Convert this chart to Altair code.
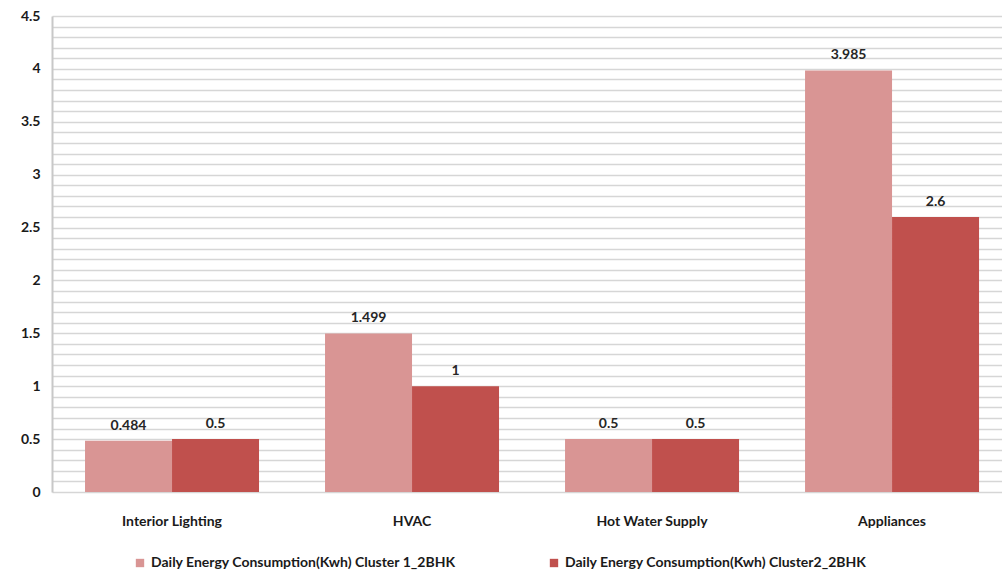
import altair as alt
import pandas as pd

categories = ["Interior Lighting", "HVAC", "Hot Water Supply", "Appliances"]
series_names = [
    "Daily Energy Consumption(Kwh) Cluster 1_2BHK",
    "Daily Energy Consumption(Kwh) Cluster2_2BHK",
]
cluster1 = [0.484, 1.499, 0.5, 3.985]
cluster2 = [0.5, 1, 0.5, 2.6]
grid_values = [round(i * 0.1, 1) for i in range(0, 46)]

rows = []
for c, v1, v2 in zip(categories, cluster1, cluster2):
    rows.append({"category": c, "series": series_names[0], "value": v1, "label": f"{v1:g}"})
    rows.append({"category": c, "series": series_names[1], "value": v2, "label": f"{v2:g}"})
df = pd.DataFrame(rows)

FONT = "Lato"

x_enc = alt.X(
    "category:N",
    sort=categories,
    title=None,
    scale=alt.Scale(paddingInner=0.275, paddingOuter=0.1166, align=0.59),
    axis=alt.Axis(
        labelAngle=0, labelFont=FONT, labelFontSize=14, labelFontWeight="bold",
        labelColor="#1a1a1a", ticks=False, domain=False, labelPadding=22,
    ),
)
xoff = alt.XOffset("series:N", sort=series_names, scale=alt.Scale(paddingInner=0, paddingOuter=0))
y_enc = alt.Y(
    "value:Q",
    title=None,
    scale=alt.Scale(domain=[0, 4.5], nice=False),
    axis=alt.Axis(
        values=grid_values,
        tickCount=60,
        labelOverlap=False,
        labelExpr="(round(datum.value*10) % 5 == 0) ? format(datum.value, '~g') : ''",
        labelFont=FONT, labelFontSize=14, labelFontWeight="bold", labelColor="#1a1a1a",
        labelPadding=12, ticks=False,
        grid=True, gridColor="#d6d6d6", gridWidth=1.6,
        domain=True, domainColor="#c8c8c8", domainWidth=2,
    ),
)
color_enc = alt.Color(
    "series:N",
    sort=series_names,
    scale=alt.Scale(domain=series_names, range=["#d99594", "#c0504d"]),
    legend=alt.Legend(
        title=None, orient="none", legendX=81, legendY=540, direction="horizontal",
        symbolType="square", symbolSize=70, symbolStrokeWidth=0,
        labelFont=FONT, labelFontSize=14, labelFontWeight="bold", labelColor="#1a1a1a",
        labelLimit=500, columnPadding=90,
    ),
)

bars = alt.Chart(df).mark_bar().encode(x=x_enc, xOffset=xoff, y=y_enc, color=color_enc)
labels = alt.Chart(df).mark_text(
    baseline="bottom", dy=-8, font=FONT, fontSize=14, fontWeight="bold", color="#262626"
).encode(x=x_enc, xOffset=xoff, y=alt.Y("value:Q"), text="label:N")

chart = (
    alt.layer(bars, labels)
    .properties(
        width=950, height=476,
        autosize=alt.AutoSizeParams(type="none"),
        padding={"left": 52, "top": 16, "right": 0, "bottom": 86},
        background="white",
    )
    .configure_view(stroke=None)
)

chart.save("out.html", embed_options={"renderer": "svg", "actions": False})
